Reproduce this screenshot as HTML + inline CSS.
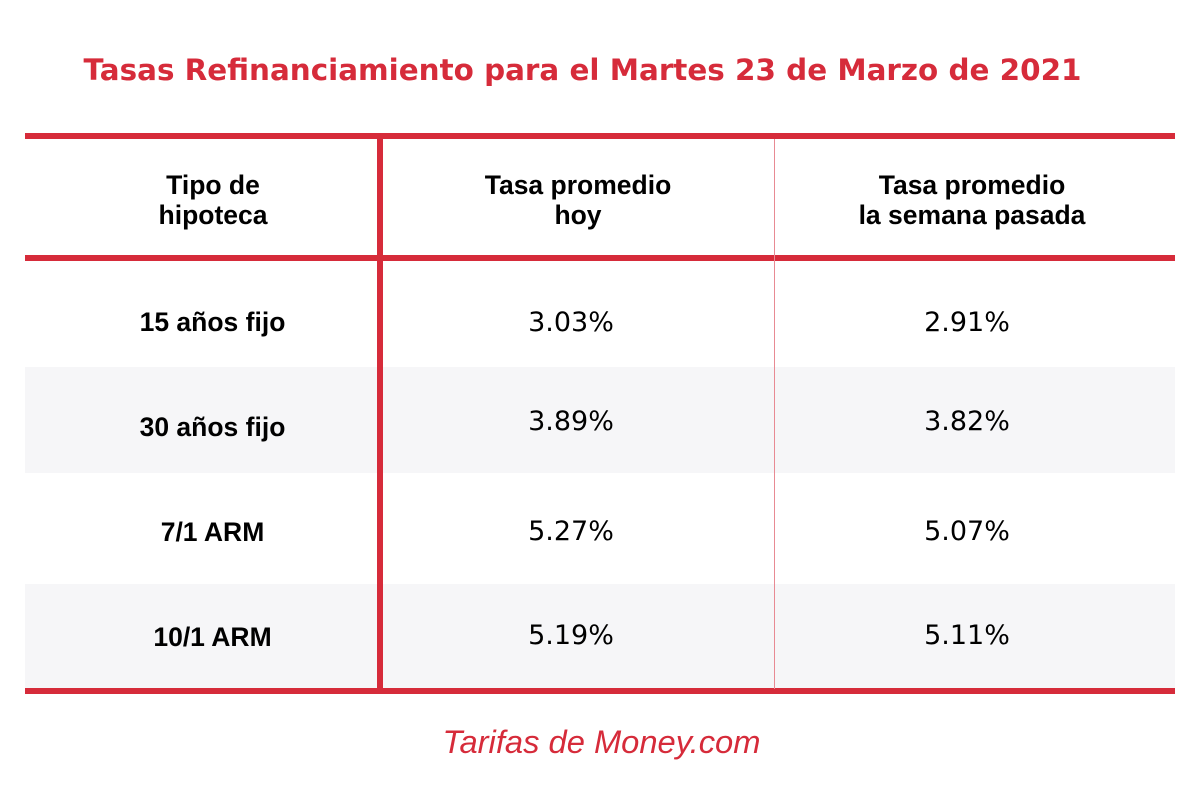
<!DOCTYPE html>
<html><head><meta charset="utf-8"><style>
body{margin:0;width:1200px;height:800px;background:#fff;position:relative;overflow:hidden;font-family:"Liberation Sans",sans-serif}
.a{position:absolute}
.r{background:#d62b3a}
.t{position:absolute;text-align:center;color:#000}
.h{font-weight:bold;font-size:26.5px;line-height:30px}
.v{font-family:"DejaVu Sans",sans-serif;font-size:27px}
</style></head><body>
<div class="a" style="left:0;width:1165px;top:53px;text-align:center;font-family:'DejaVu Sans',sans-serif;font-weight:bold;font-size:29.4px;color:#d62b3a;">Tasas Refinanciamiento para el Martes 23 de Marzo de 2021</div>
<div class="a" style="left:25px;width:1150px;top:367px;height:106px;background:#f6f6f8"></div>
<div class="a" style="left:25px;width:1150px;top:584px;height:105px;background:#f6f6f8"></div>
<div class="a r" style="left:25px;width:1150px;top:133px;height:6px"></div>
<div class="a r" style="left:25px;width:1150px;top:255px;height:6px"></div>
<div class="a r" style="left:25px;width:1150px;top:688px;height:6px"></div>
<div class="a r" style="left:377px;width:6px;top:139px;height:550px"></div>
<div class="a" style="left:774px;width:1px;top:139px;height:550px;background:#e88a93"></div>
<div class="t h" style="left:25px;width:376px;top:170px">Tipo de<br>hipoteca</div>
<div class="t h" style="left:389px;width:378px;top:170px">Tasa promedio<br>hoy</div>
<div class="t h" style="left:775px;width:394px;top:170px">Tasa promedio<br>la semana pasada</div>
<div class="t h" style="left:25px;width:375px;top:307px">15 años fijo</div>
<div class="t h" style="left:25px;width:375px;top:412px">30 años fijo</div>
<div class="t h" style="left:25px;width:375px;top:517px">7/1 ARM</div>
<div class="t h" style="left:25px;width:375px;top:622px">10/1 ARM</div>
<div class="t v" style="left:383px;width:376px;top:307px">3.03%</div>
<div class="t v" style="left:775px;width:384px;top:307px">2.91%</div>
<div class="t v" style="left:383px;width:376px;top:406px">3.89%</div>
<div class="t v" style="left:775px;width:384px;top:406px">3.82%</div>
<div class="t v" style="left:383px;width:376px;top:516px">5.27%</div>
<div class="t v" style="left:775px;width:384px;top:516px">5.07%</div>
<div class="t v" style="left:383px;width:376px;top:620px">5.19%</div>
<div class="t v" style="left:775px;width:384px;top:620px">5.11%</div>
<div class="a" style="left:0;width:1203px;top:723px;text-align:center;font-style:italic;font-size:32.7px;color:#d62b3a">Tarifas de Money.com</div>
</body></html>
